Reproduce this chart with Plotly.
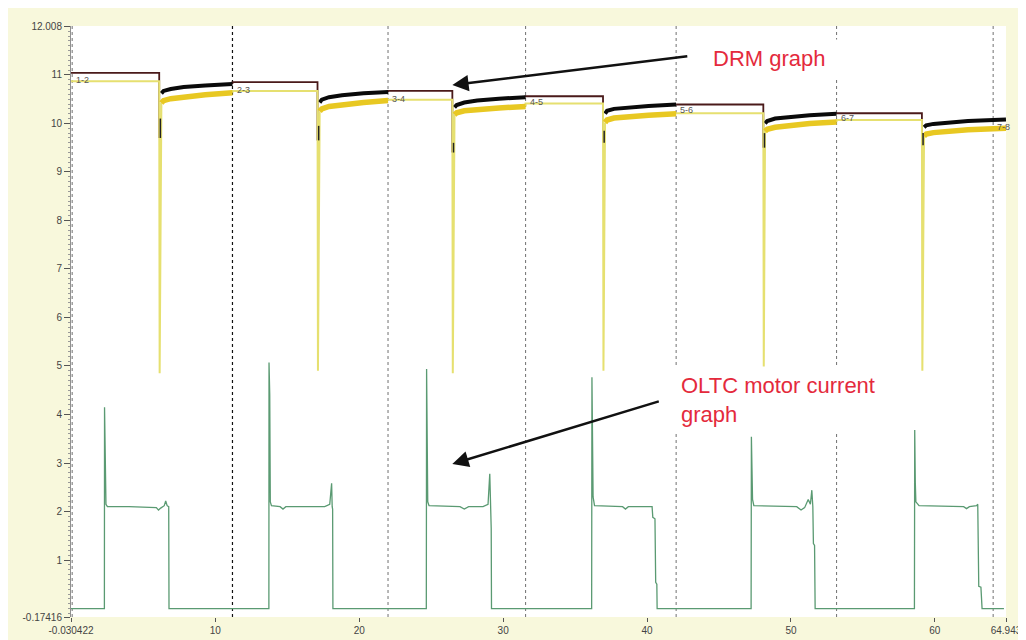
import plotly.graph_objects as go

# ---------------- data ----------------
x_range = [-0.030422, 64.943]
y_range = [-0.17416, 12.008]
y_tick_vals = [-0.17416, 1, 2, 3, 4, 5, 6, 7, 8, 9, 10, 11, 12.008]
y_tick_text = ["-0.17416", "1", "2", "3", "4", "5", "6", "7", "8", "9", "10", "11", "12.008"]
x_tick_vals = [-0.030422, 10, 20, 30, 40, 50, 60, 64.943]
x_tick_text = ["-0.030422", "10", "20", "30", "40", "50", "60", "64.943"]

# cursor (dotted) lines and their labels
cursor_x = [0.05, 11.19, 22.0, 31.56, 42.02, 53.17, 64.05]
cursor_label = ["1-2", "2-3", "3-4", "4-5", "5-6", "6-7", "7-8"]
cursor_label_y = [10.89, 10.69, 10.50, 10.45, 10.27, 10.12, 9.93]

# DRM flat sections (black = upper trace, yellow = lower trace)
flat_start = [-0.03, 11.19, 22.0, 31.56, 42.02, 53.17]
flat_end = [6.1, 17.1, 26.47, 36.94, 48.08, 59.1]
flat_black = [11.04, 10.85, 10.67, 10.56, 10.39, 10.21]
flat_yellow = [10.87, 10.67, 10.49, 10.41, 10.21, 10.07]
yellow_drop_low = [4.85, 4.9, 4.85, 4.9, 4.95, 4.9]
black_drop_low = [9.7, 9.65, 9.4, 9.6, 9.5, 9.55]
mark_top = [10.1, 9.95, 9.6, 9.85, 9.8, 9.8]

# DRM recovery sections after each tap change
rec_x = [
    [6.25, 6.4, 6.9, 7.8, 9.3, 11.19],
    [17.25, 17.4, 17.9, 18.8, 20.3, 22.0],
    [26.62, 26.77, 27.3, 28.2, 29.7, 31.56],
    [37.08, 37.22, 37.7, 38.6, 40.1, 42.02],
    [48.2, 48.35, 48.9, 49.8, 51.3, 53.17],
    [59.25, 59.4, 59.9, 60.8, 62.3, 64.94],
]
rec_black = [
    [10.62, 10.67, 10.71, 10.75, 10.78, 10.81],
    [10.43, 10.49, 10.54, 10.58, 10.62, 10.65],
    [10.33, 10.38, 10.43, 10.47, 10.51, 10.54],
    [10.20, 10.26, 10.30, 10.33, 10.36, 10.39],
    [10.00, 10.05, 10.10, 10.13, 10.17, 10.20],
    [9.92, 9.96, 9.99, 10.02, 10.05, 10.08],
]
rec_yellow = [
    [10.42, 10.47, 10.51, 10.55, 10.59, 10.63],
    [10.25, 10.30, 10.35, 10.39, 10.43, 10.47],
    [10.18, 10.22, 10.26, 10.29, 10.32, 10.35],
    [10.02, 10.07, 10.11, 10.14, 10.17, 10.20],
    [9.84, 9.88, 9.92, 9.96, 10.00, 10.03],
    [9.74, 9.78, 9.81, 9.84, 9.87, 9.90],
]

# OLTC motor current
green_t = [
    -0.03, 2.29, 2.30, 2.34, 2.36, 2.40, 2.5, 4.0, 5.9, 6.05, 6.2, 6.45, 6.55, 6.65, 6.76, 6.78,
    13.72, 13.73, 13.76, 13.78, 13.82, 13.9, 14.5, 14.7, 14.9, 17.6, 17.95, 18.08, 18.12, 18.15, 18.17,
    24.66, 24.68, 24.71, 24.72, 24.76, 24.85, 27.0, 27.3, 27.6, 28.6, 28.95, 29.07, 29.11, 29.13, 29.17, 29.19,
    36.15, 36.17, 36.20, 36.21, 36.25, 36.35, 38.3, 38.5, 38.7, 40.35, 40.40, 40.55, 40.60, 40.68, 40.70,
    47.23, 47.25, 47.28, 47.29, 47.33, 47.42, 50.4, 50.7, 50.95, 51.2, 51.35, 51.45, 51.52, 51.56, 51.64, 51.68,
    58.58, 58.60, 58.63, 58.64, 58.68, 58.9, 62.0, 62.2, 62.4, 62.9, 62.98, 63.05, 63.2, 63.28, 64.8,
]
green_i = [
    0.0, 0.0, 4.15, 3.0, 3.7, 2.15, 2.1, 2.1, 2.08, 2.03, 2.07, 2.12, 2.22, 2.12, 2.1, 0.0,
    0.0, 5.07, 4.2, 4.4, 2.2, 2.12, 2.1, 2.05, 2.1, 2.1, 2.15, 2.58, 2.1, 2.05, 0.0,
    0.0, 4.94, 3.6, 3.9, 2.2, 2.12, 2.1, 2.05, 2.1, 2.1, 2.15, 2.78, 2.1, 1.68, 1.65, 0.0,
    0.0, 4.77, 4.1, 4.3, 2.3, 2.12, 2.1, 2.05, 2.1, 2.1, 1.88, 1.85, 0.54, 0.5, 0.0,
    0.0, 3.54, 2.5, 2.9, 2.25, 2.12, 2.1, 2.03, 2.08, 2.25, 2.15, 2.44, 2.1, 1.34, 1.3, 0.0,
    0.0, 3.68, 2.1, 2.6, 2.2, 2.12, 2.1, 2.06, 2.1, 2.12, 2.15, 0.46, 0.44, 0.0, 0.0,
]

# ---------------- build DRM line pieces ----------------
bf_x, bf_y, yf_x, yf_y, br_x, br_y, yr_x, yr_y, mk_x, mk_y = ([] for _ in range(10))
for i in range(len(flat_start)):
    # black flat + small drop
    if i > 0:
        bf_x += [rec_x[i - 1][-1]]
        bf_y += [rec_black[i - 1][-1]]
        yf_x += [rec_x[i - 1][-1]]
        yf_y += [rec_yellow[i - 1][-1]]
    bf_x += [flat_start[i], flat_end[i], flat_end[i], None]
    bf_y += [flat_black[i], flat_black[i], black_drop_low[i], None]
    # yellow flat + deep drop + return to recovery start
    yf_x += [flat_start[i], flat_end[i], flat_end[i] + 0.03, rec_x[i][0], None]
    yf_y += [flat_yellow[i], flat_yellow[i], yellow_drop_low[i], rec_yellow[i][0], None]
    # dark mark on drop
    mk_x += [flat_end[i] + 0.08, flat_end[i] + 0.08, None]
    mk_y += [mark_top[i], black_drop_low[i], None]
    # recoveries
    br_x += rec_x[i] + [None]
    br_y += rec_black[i] + [None]
    yr_x += rec_x[i] + [None]
    yr_y += rec_yellow[i] + [None]

fig = go.Figure()
fig.add_trace(go.Scatter(x=bf_x, y=bf_y, mode="lines", line=dict(color="#4a1a1a", width=1.8),
                         hoverinfo="skip", showlegend=False))
fig.add_trace(go.Scatter(x=br_x, y=br_y, mode="lines", line=dict(color="#0a0a0a", width=4),
                         hoverinfo="skip", showlegend=False))
fig.add_trace(go.Scatter(x=yf_x, y=yf_y, mode="lines", line=dict(color="#e6e070", width=2),
                         hoverinfo="skip", showlegend=False))
fig.add_trace(go.Scatter(x=yr_x, y=yr_y, mode="lines", line=dict(color="#e8c822", width=5.5),
                         hoverinfo="skip", showlegend=False))
fig.add_trace(go.Scatter(x=mk_x, y=mk_y, mode="lines", line=dict(color="#222222", width=1.5),
                         hoverinfo="skip", showlegend=False))
fig.add_trace(go.Scatter(x=green_t, y=green_i, mode="lines", line=dict(color="#5a9a72", width=1.3),
                         hoverinfo="skip", showlegend=False))

# cursor lines
shapes = []
for i, cx in enumerate(cursor_x):
    shapes.append(dict(type="line", xref="x", yref="paper", x0=cx, x1=cx, y0=0, y1=1, layer="below",
                       line=dict(color="#111111" if i == 1 else "#707070", width=1.2 if i == 1 else 1,
                                 dash="dot")))

annotations = []
for cx, lab, ly in zip(cursor_x, cursor_label, cursor_label_y):
    annotations.append(dict(x=cx + 0.15, y=ly, text=lab, showarrow=False, xanchor="left", yanchor="middle",
                            font=dict(family="Arial, Liberation Sans", size=9, color="#555555")))

red = "#e42a3c"
annotations.append(dict(x=44.09, y=11.33, xref="x", yref="y", text="DRM graph", showarrow=False,
                        xanchor="left", yanchor="middle", align="left", width=128,
                        bgcolor="white", borderpad=6,
                        font=dict(family="Arial, Liberation Sans", size=22, color=red)))
annotations.append(dict(x=41.88, y=4.30, xref="x", yref="y", text="OLTC motor current<br>graph",
                        showarrow=False, xanchor="left", yanchor="middle", align="left",
                        bgcolor="white", borderpad=6,
                        font=dict(family="Arial, Liberation Sans", size=22, color=red)))
# arrows
annotations.append(dict(x=26.47, y=10.79, ax=42.9, ay=11.39, axref="x", ayref="y", xref="x", yref="y",
                        text="", showarrow=True, arrowhead=2, arrowsize=1.3, arrowwidth=2.5,
                        arrowcolor="#111111"))
annotations.append(dict(x=26.47, y=2.98, ax=40.92, ay=4.28, axref="x", ayref="y", xref="x", yref="y",
                        text="", showarrow=True, arrowhead=2, arrowsize=1.3, arrowwidth=2.5,
                        arrowcolor="#111111"))

fig.update_layout(
    width=1026, height=640,
    margin=dict(l=63, r=19, t=16, b=14),
    paper_bgcolor="#f8f8dc",
    plot_bgcolor="white",
    shapes=shapes,
    annotations=annotations,
    showlegend=False,
    font=dict(family="Arial, Liberation Sans", size=10, color="#444444"),
)
fig.update_xaxes(range=x_range, tickvals=x_tick_vals, ticktext=x_tick_text, showgrid=False,
                 zeroline=False, showline=False, ticks="outside", ticklen=4, tickcolor="#555555",
                 tickfont=dict(size=10, color="#444444"))
fig.update_yaxes(range=y_range, tickvals=y_tick_vals, ticktext=y_tick_text, showgrid=False,
                 zeroline=False, showline=True, linecolor="#909090", linewidth=1,
                 ticks="outside", ticklen=6, tickcolor="#555555",
                 tickfont=dict(size=10, color="#444444"),
                 minor=dict(ticks="outside", ticklen=2, dtick=0.1, tickcolor="#999999"))

fig.write_html("out.html")
